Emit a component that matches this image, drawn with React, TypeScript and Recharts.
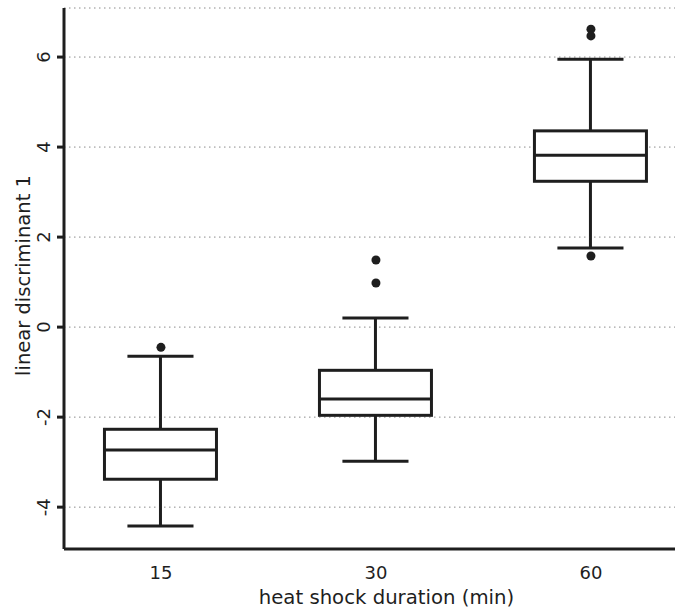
import { ComposedChart, Bar, Scatter, XAxis, YAxis, CartesianGrid, Label } from 'recharts';

const categories = ['15', '30', '60'];
const positions = [1, 2, 3];
const whiskerLow = [-4.42, -2.98, 1.76];
const q1 = [-3.38, -1.96, 3.24];
const median = [-2.73, -1.6, 3.82];
const q3 = [-2.27, -0.96, 4.36];
const whiskerHigh = [-0.65, 0.2, 5.95];
const outliers = [[-0.45], [1.49, 0.98], [6.62, 6.47, 1.58]];
const yTicks = [-4, -2, 0, 2, 4, 6];

const INK = '#1e1e1e';

const boxData = positions.map((pos, i) => ({
  pos,
  label: categories[i],
  lo: whiskerLow[i],
  q1: q1[i],
  med: median[i],
  q3: q3[i],
  hi: whiskerHigh[i],
}));

const outlierData = outliers.flatMap((vals, i) => vals.map((value) => ({ pos: positions[i], value })));

const BoxShape = (props: any) => {
  const { x, y, width, height } = props;
  const d = props.payload ?? props;
  const top = Math.min(y, y + height);
  const bottom = Math.max(y, y + height);
  const pxPerUnit = (bottom - top) / (d.hi - d.lo);
  const py = (v: number) => top + (d.hi - v) * pxPerUnit;
  const cx = x + width / 2;
  const capHalf = width * 0.295;
  return (
    <g stroke={INK} strokeWidth={3} fill="none">
      <line x1={cx} x2={cx} y1={py(d.hi)} y2={py(d.q3)} />
      <line x1={cx} x2={cx} y1={py(d.q1)} y2={py(d.lo)} />
      <line x1={cx - capHalf} x2={cx + capHalf} y1={py(d.hi)} y2={py(d.hi)} />
      <line x1={cx - capHalf} x2={cx + capHalf} y1={py(d.lo)} y2={py(d.lo)} />
      <rect x={x} y={py(d.q3)} width={width} height={py(d.q1) - py(d.q3)} fill="#fff" />
      <line x1={x} x2={x + width} y1={py(d.med)} y2={py(d.med)} />
    </g>
  );
};

const YTick = ({ x, y, payload }: any) => {
  const cx = x - 11;
  return (
    <text
      x={cx}
      y={y}
      transform={`rotate(-90, ${cx}, ${y})`}
      textAnchor="middle"
      dominantBaseline="central"
      fontSize={18}
      fill={INK}
      fontFamily="DejaVu Sans"
    >
      {payload.value}
    </text>
  );
};

const App = () => {
  return (
    <div style={{ position: 'absolute', left: 0, top: 0, width: 675, height: 608, background: '#fff' }}>
      <ComposedChart
        width={675}
        height={608}
        data={boxData}
        margin={{ top: 8, right: 0, bottom: 0, left: 0 }}
        style={{ fontFamily: 'DejaVu Sans' }}
      >
        <CartesianGrid vertical={false} stroke="#8a8a8a" strokeDasharray="1.5 3.5" />
        <XAxis
          dataKey="pos"
          type="number"
          domain={[0.549, 3.391]}
          ticks={positions}
          allowDataOverflow
          tickFormatter={(v: number) => categories[positions.indexOf(v)]}
          height={59}
          tickLine={false}
          axisLine={{ stroke: INK, strokeWidth: 3 }}
          tick={{ fill: INK, fontSize: 18 }}
          tickMargin={11}
        >
          <Label
            content={({ viewBox }: any) => (
              <text
                x={viewBox.x + viewBox.width / 2 + 17}
                y={597}
                textAnchor="middle"
                dominantBaseline="central"
                fontSize={19.7}
                fill={INK}
                fontFamily="DejaVu Sans"
              >
                heat shock duration (min)
              </text>
            )}
          />
        </XAxis>
        <YAxis
          type="number"
          domain={[-4.93, 7.09]}
          ticks={yTicks}
          allowDataOverflow
          width={64}
          tickSize={7}
          tickLine={{ stroke: INK, strokeWidth: 3 }}
          axisLine={{ stroke: INK, strokeWidth: 3 }}
          tick={<YTick />}
        >
          <Label
            content={({ viewBox }: any) => {
              const cy = viewBox.y + viewBox.height / 2 - 3;
              return (
                <text
                  x={23}
                  y={cy}
                  transform={`rotate(-90, 23, ${cy})`}
                  textAnchor="middle"
                  dominantBaseline="central"
                  fontSize={19.5}
                  fill={INK}
                  fontFamily="DejaVu Sans"
                >
                  linear discriminant 1
                </text>
              );
            }}
          />
        </YAxis>
        <Bar
          dataKey={(d: any) => [d.lo, d.hi]}
          barSize={112}
          shape={<BoxShape />}
          isAnimationActive={false}
        />
        <Scatter
          data={outlierData}
          dataKey="value"
          fill={INK}
          shape={(p: any) => <circle cx={p.cx} cy={p.cy} r={4.5} fill={INK} />}
          isAnimationActive={false}
        />
      </ComposedChart>
    </div>
  );
};

export default App;
